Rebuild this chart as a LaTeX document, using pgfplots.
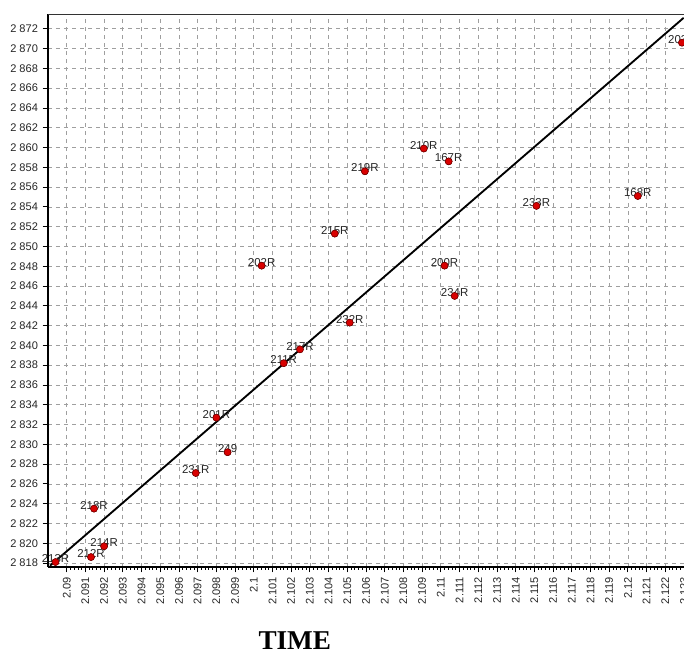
\documentclass[border=0pt]{standalone}
\usepackage{fontspec}
\setmainfont{Liberation Sans}
\newfontfamily\timesfont{Liberation Serif}
\usepackage{pgfplots}
\usepackage{pgfplotstable}
\pgfplotsset{compat=1.18}

\pgfplotstableread{
x y label
2.0894 2818.1 213R
2.0913 2818.6 212R
2.0920 2819.7 214R
2.09146 2823.5 218R
2.0969 2827.1 231R
2.0986 2829.2 249
2.0980 2832.7 201R
2.1016 2838.2 211R
2.10247 2839.6 217R
2.10513 2842.3 232R
2.10042 2848.06 202R
2.10433 2851.3 215R
2.10594 2857.6 219R
2.10909 2859.9 210R
2.11042 2858.6 167R
2.1102 2848.06 200R
2.11074 2845.0 234R
2.11511 2854.1 233R
2.12053 2855.1 168R
2.12289 2870.6 203R
}\pts

\begin{document}
\begin{tikzpicture}
\begin{axis}[
  scale only axis, width=477pt, height=414.75pt,
  xmin=2.0890, xmax=2.1230, ymin=2817.6, ymax=2873.5,
  axis x line*=bottom, axis y line*=left,
  axis line style={-, black, line width=1.4pt},
  grid=major, major grid style={gray!75, dashed, line width=0.5pt},
  tick align=outside, major tick length=4pt, minor tick length=2pt,
  tick style={black, line width=0.6pt},
  minor x tick num=4,
  xtick={2.090,2.091,2.092,2.093,2.094,2.095,2.096,2.097,2.098,2.099,2.100,2.101,2.102,2.103,2.104,2.105,2.106,2.107,2.108,2.109,2.110,2.111,2.112,2.113,2.114,2.115,2.116,2.117,2.118,2.119,2.120,2.121,2.122,2.123},
  xticklabels={2.09,2.091,2.092,2.093,2.094,2.095,2.096,2.097,2.098,2.099,2.1,2.101,2.102,2.103,2.104,2.105,2.106,2.107,2.108,2.109,2.11,2.111,2.112,2.113,2.114,2.115,2.116,2.117,2.118,2.119,2.12,2.121,2.122,2.123},
  xticklabel style={rotate=90, anchor=east, font=\fontsize{8.3}{10}\selectfont, text=black!85},
  ytick={2818,2820,...,2872},
  yticklabel style={font=\fontsize{8.3}{10}\selectfont, text=black!85},
  /pgf/number format/assume math mode=true,
  /pgf/number format/1000 sep={\ },
  xlabel={TIME},
  xlabel style={font=\timesfont\bfseries\fontsize{20.4}{24}\selectfont, at={(axis description cs:0.388,0)}, anchor=north, yshift=-45pt},
  clip=false,
]
\addplot[black, line width=1.4pt] coordinates {(2.08911,2817.73) (2.12298,2873.11)};
\addplot[only marks, mark=*, mark size=2.6pt,
  mark options={fill=red!85!black, draw=red!45!black, line width=0.4pt},
  nodes near coords, point meta=explicit symbolic,
  every node near coord/.append style={font=\fontsize{8.6}{10}\selectfont, text=black!85, anchor=south, yshift=-1.2pt, inner sep=0.5pt}]
  table[x=x, y=y, meta=label] {\pts};
\addplot[only marks, mark=*, mark size=2.6pt,
  mark options={fill=red!85!black, draw=red!45!black, line width=0.4pt}]
  table[x=x, y=y] {\pts};
\draw[black!80, line width=0.6pt] (rel axis cs:0,1) -- (rel axis cs:1,1);
\path (rel axis cs:0,0) coordinate (SW) (rel axis cs:1,1) coordinate (NE);
\end{axis}
\pgfresetboundingbox
\useasboundingbox ([shift={(-36pt,-62.25pt)}]SW) rectangle ([shift={(0pt,10.5pt)}]NE);
\end{tikzpicture}
\end{document}
